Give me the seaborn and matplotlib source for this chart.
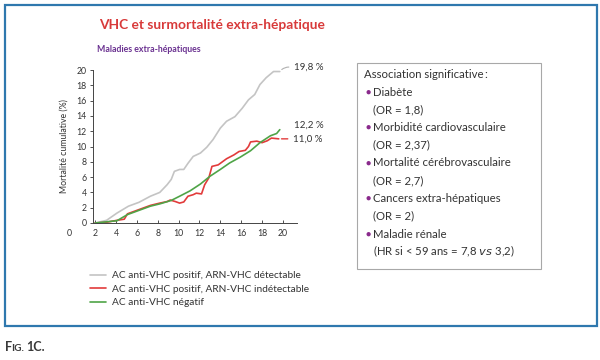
import numpy as np
import pandas as pd
import matplotlib
matplotlib.use('Agg')
import matplotlib.pyplot as plt
from matplotlib.patches import Rectangle
import seaborn as sns

# Data (years of follow-up vs cumulative mortality %)
gray_x = [2, 3.1, 4.1, 5.2, 6.2, 7.3, 8.2, 8.9, 9.3, 9.6, 10.1, 10.5, 10.9, 11.4, 12.1, 12.7,
          13.3, 14.0, 14.6, 15.4, 16.1, 16.7, 17.3, 17.8, 18.4, 19.1, 19.7]
gray_y = [0, 0.35, 1.3, 2.2, 2.7, 3.5, 4.0, 5.0, 5.7, 6.75, 7.0, 7.0, 7.8, 8.7, 9.15, 9.9,
          10.9, 12.4, 13.3, 13.9, 15.0, 16.1, 16.8, 18.1, 19.0, 19.8, 19.8]
red_x = [2, 3.1, 4.1, 4.8, 5.1, 6.2, 7.3, 8.2, 8.9, 9.2, 9.7, 10.1, 10.5, 10.9, 11.4, 11.7,
         12.2, 12.5, 12.9, 13.2, 13.8, 14.6, 15.3, 15.8, 16.4, 16.7, 16.9, 17.5, 18.0, 18.5,
         18.9, 19.6]
red_y = [0, 0.1, 0.35, 0.5, 1.2, 1.75, 2.3, 2.6, 2.8, 3.0, 2.8, 2.6, 2.75, 3.5, 3.7, 3.9,
         3.8, 5.0, 5.9, 7.4, 7.6, 8.4, 8.9, 9.35, 9.5, 10.0, 10.6, 10.7, 10.5, 10.75,
         11.1, 11.0]
green_x = [2, 4.1, 5.1, 6.2, 7.3, 8.2, 9.3, 10.1, 11.1, 12.1, 13.0, 14.0, 14.9, 15.9, 16.9,
           17.8, 18.8, 19.4, 19.7]
green_y = [0, 0.3, 1.1, 1.65, 2.2, 2.5, 2.95, 3.5, 4.2, 5.1, 6.1, 7.0, 7.85, 8.6, 9.45,
           10.5, 11.4, 11.7, 12.2]

series_names = ['AC anti-VHC positif, ARN-VHC détectable',
                'AC anti-VHC positif, ARN-VHC indétectable',
                'AC anti-VHC négatif']
end_labels = ['19,8 %', '12,2 %', '11,0 %']
x_ticks = [2, 4, 6, 8, 10, 12, 14, 16, 18, 20]
y_ticks = [0, 2, 4, 6, 8, 10, 12, 14, 16, 18, 20]
box_title = 'Association significative\u2009:'
box_items = ['Diabète', 'Morbidité cardiovasculaire', 'Mortalité cérébrovasculaire',
             'Cancers extra-hépatiques', 'Maladie rénale']
box_values = ['(OR = 1,8)', '(OR = 2,37)', '(OR = 2,7)', '(OR = 2)',
              '(HR si < 59 ans = 7,8 $\\it{vs}$ 3,2)']

df = pd.concat([
    pd.DataFrame({'x': gray_x, 'y': gray_y, 'groupe': series_names[0]}),
    pd.DataFrame({'x': red_x, 'y': red_y, 'groupe': series_names[1]}),
    pd.DataFrame({'x': green_x, 'y': green_y, 'groupe': series_names[2]}),
])
colors = {series_names[0]: '#c4c4c4', series_names[1]: '#e23b3b', series_names[2]: '#4fa447'}

sns.set_theme(style='ticks')
plt.rcParams['font.family'] = ['Lato', 'DejaVu Sans']
txt = '#333333'

W, H = 600, 360
def fx(px):
    return px / W
def fy(py):
    return 1 - py / H

fig = plt.figure(figsize=(6, 3.6), dpi=100)
fig.patch.set_facecolor('white')

# outer blue frame
fig.patches.append(Rectangle((fx(5), fy(326)), fx(592), 321 / H, transform=fig.transFigure,
                             fill=False, edgecolor='#2f78ae', lw=1.6))

fig.text(fx(99), fy(25), 'VHC et surmortalité extra-hépatique', color='#d83a3a',
         fontsize=9.9, fontweight='bold', va='center', ha='left')
fig.text(fx(97), fy(50), 'Maladies extra-hépatiques', color='#6b3291',
         fontsize=6.3, fontweight='bold', va='center', ha='left')

ax = fig.add_axes([fx(93), fy(223), (297 - 93) / W, (223 - 70) / H])
sns.lineplot(data=df, x='x', y='y', hue='groupe', palette=colors, hue_order=series_names,
             estimator=None, sort=False, lw=1.2, ax=ax, legend=False)
for line in ax.lines:
    line.set_clip_on(False)
ax.set_xlim(1.8, 21.35)
ax.set_ylim(0, 20)
ax.set_xticks(x_ticks)
ax.set_yticks(y_ticks)
ax.tick_params(axis='both', labelsize=6.3, colors=txt, width=0.6, length=2.5)
ax.tick_params(axis='x', direction='in', pad=4)
ax.tick_params(axis='y', direction='out', pad=2)
ax.set_xlabel('')
ax.set_ylabel('Mortalité cumulative (%)', fontsize=6.3, color=txt, labelpad=6)
sns.despine(ax=ax)
for s in ['left', 'bottom']:
    ax.spines[s].set_linewidth(0.7)
    ax.spines[s].set_color('#444444')
fig.text(fx(69), fy(233), '0', fontsize=6.3, color=txt, ha='center', va='center')

# end-of-curve labels
ends = [(gray_x[-1], gray_y[-1]), (green_x[-1], green_y[-1]), (red_x[-1], red_y[-1])]
offsets = [(10, 3), (10, 3), (10, 0)]
for (ex, ey), lab, off in zip(ends, end_labels, offsets):
    ax.annotate(lab, xy=(ex, ey), xytext=off, textcoords='offset points', fontsize=7,
                color=txt, va='center', ha='left', annotation_clip=False)
ax.annotate('', xy=(gray_x[-1], gray_y[-1]), xytext=(8.5, 3), textcoords='offset points',
            arrowprops=dict(arrowstyle='-', color='#b0b0b0', lw=0.8,
                            connectionstyle='arc3,rad=0.3'), annotation_clip=False)
ax.annotate('', xy=(red_x[-1], red_y[-1]), xytext=(8.5, 0), textcoords='offset points',
            arrowprops=dict(arrowstyle='-', color=colors[series_names[1]], lw=1.0),
            annotation_clip=False)

# legend
handles = [plt.Line2D([], [], color=colors[n], lw=1.2) for n in series_names]
fig.legend(handles, series_names, loc='upper left', bbox_to_anchor=(fx(85), fy(266)),
           frameon=False, fontsize=7.3, handlelength=1.6, handletextpad=0.6,
           labelspacing=0.45, labelcolor=txt, borderpad=0)

# right info box
fig.patches.append(Rectangle((fx(357), fy(269)), (541 - 357) / W, (269 - 63) / H,
                             transform=fig.transFigure, fill=False,
                             edgecolor='#a8a8a8', lw=0.8))
fig.text(fx(364), fy(74), box_title, fontsize=8.2, color=txt, va='center', ha='left')
row_y = 92
for item, val in zip(box_items, box_values):
    fig.text(fx(368), fy(row_y), '●', fontsize=6.3, color='#8a2a8c', va='center', ha='center')
    fig.text(fx(373), fy(row_y), item, fontsize=8.2, color=txt, va='center', ha='left')
    fig.text(fx(373), fy(row_y + 17.5), val, fontsize=8.2, color=txt, va='center', ha='left')
    row_y += 35.5

# figure caption in small caps
fig.text(fx(5), fy(351), 'F', fontsize=9, color='#3a3a3a', fontweight='bold',
         va='baseline', ha='left')
fig.text(fx(11.5), fy(351), 'IG.', fontsize=7.3, color='#3a3a3a', fontweight='bold',
         va='baseline', ha='left')
fig.text(fx(26), fy(351), '1C.', fontsize=9, color='#3a3a3a', fontweight='bold',
         va='baseline', ha='left')

fig.savefig('out.png', dpi=100)
